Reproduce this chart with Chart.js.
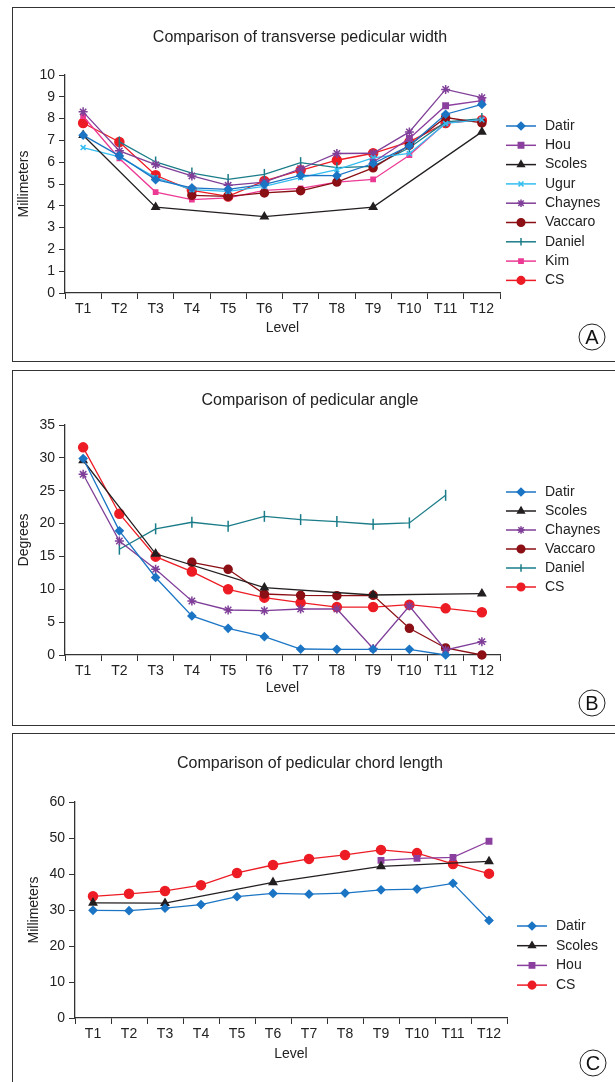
<!DOCTYPE html>
<html>
<head>
<meta charset="utf-8">
<script src="https://cdn.jsdelivr.net/npm/chart.js@4.4.1/dist/chart.umd.min.js"></script>
<style>
    body { margin: 0; background: #fff; overflow: hidden; font-family: "Liberation Sans", Arial, sans-serif; }
    #page { position: relative; width: 615px; height: 1082px; overflow: hidden; }
    .panel { position: absolute; left: 12px; width: 660px; border: 1px solid #333; box-sizing: border-box; }
    canvas { position: absolute; left: 0; }
    .title { position: absolute; font-size: 16px; color: #222; white-space: nowrap; transform: translate(-50%, -50%); }
    .letter { position: absolute; width: 25px; height: 25px; border: 1.3px solid #222; border-radius: 50%;
              font-size: 20px; line-height: 25px; text-align: center; color: #111; transform: translate(-50%, -50%); }
</style>
</head>
<body>
<div id="page">
    <div class="panel" style="top:7px;height:355px"></div>
    <div class="panel" style="top:370px;height:356px"></div>
    <div class="panel" style="top:733px;height:400px"></div>

    <canvas id="widthChart" width="615" height="365" style="top:0"></canvas>
    <canvas id="angleChart" width="615" height="364" style="top:366px"></canvas>
    <canvas id="chordChart" width="615" height="352" style="top:730px"></canvas>

    <div class="title" style="left:300px;top:37px">Comparison of transverse pedicular width</div>
    <div class="title" style="left:310px;top:400px">Comparison of pedicular angle</div>
    <div class="title" style="left:310px;top:763px">Comparison of pedicular chord length</div>

    <div class="letter" style="left:592px;top:337px">A</div>
    <div class="letter" style="left:592px;top:703px">B</div>
    <div class="letter" style="left:593px;top:1063px">C</div>
</div>

<script>
const levels = ['T1', 'T2', 'T3', 'T4', 'T5', 'T6', 'T7', 'T8', 'T9', 'T10', 'T11', 'T12'];

// A - transverse pedicular width (mm)
const widthDatir   = [7.24, 6.29, 5.2, 4.82, 4.75, 4.98, 5.4, 5.38, 5.94, 6.75, 8.2, 8.65];
const widthHou     = [null, null, null, null, null, null, null, null, 6.0, 7.09, 8.59, 8.82];
const widthScoles  = [7.24, null, 3.94, null, null, 3.5, null, null, 3.94, null, null, 7.39];
const widthUgur    = [6.67, 6.24, 5.29, 4.74, 4.66, 4.89, 5.29, 5.66, 6.2, 6.4, 7.78, 7.95];
const widthChaynes = [8.31, 6.52, 5.89, 5.37, 4.94, 5.09, 5.7, 6.4, 6.41, 7.39, 9.34, 8.96];
const widthVaccaro = [null, null, null, 4.48, 4.43, 4.59, 4.69, 5.09, 5.74, 6.78, 8.05, 7.8];
const widthDaniel  = [null, 6.93, 6.01, 5.5, 5.21, 5.44, 5.98, 5.75, 5.81, 6.66, 7.85, 8.0];
const widthKim     = [8.11, 6.17, 4.63, 4.28, 4.36, 4.71, 4.8, 5.09, 5.21, 6.32, 7.8, 7.95];
const widthCS      = [7.8, 6.93, 5.4, 4.71, 4.43, 5.14, 5.63, 6.09, 6.41, 6.93, 7.8, 7.93];

// B - pedicular angle (degrees)
const angleDatir   = [29.9, 18.9, 11.8, 5.94, 4.06, 2.79, 0.91, 0.86, 0.86, 0.86, 0, null];
const angleScoles  = [29.6, null, 15.4, null, null, 10.25, null, null, 9.13, null, null, 9.34];
const angleChaynes = [27.5, 17.35, 13.04, 8.22, 6.85, 6.75, 7.0, 7.0, 1.0, 7.46, 0.76, 2.03];
const angleVaccaro = [null, null, null, 14.1, 13.04, 9.28, 9.08, 9.03, 9.08, 4.06, 1.07, 0];
const angleDaniel  = [null, 16.1, 19.2, 20.2, 19.6, 21.1, 20.6, 20.3, 19.9, 20.1, 24.3, null];
const angleCS      = [31.6, 21.5, 14.97, 12.7, 10.0, 8.73, 7.97, 7.3, 7.3, 7.66, 7.1, 6.5];

// C - pedicular chord length (mm)
const chordDatir  = [29.9, 29.8, 30.5, 31.5, 33.7, 34.6, 34.4, 34.7, 35.6, 35.8, 37.4, 27.1];
const chordScoles = [32.0, null, 31.9, null, null, 37.7, null, null, 42.1, null, null, 43.5];
const chordHou    = [null, null, null, null, null, null, null, null, 43.8, 44.35, 44.6, 49.1];
const chordCS     = [33.8, 34.5, 35.3, 36.9, 40.3, 42.5, 44.2, 45.3, 46.7, 45.8, 42.8, 40.1];

const FONT = '"Liberation Sans", Arial, sans-serif';
const INK = '#222';

// marker look for each author
const styles = {
    Datir:   { color: '#1b75c4', pointStyle: 'rectRot', radius: 3.8 },
    Hou:     { color: '#8b3f9e', pointStyle: 'rect', radius: 3.8 },
    Scoles:  { color: '#231f20', pointStyle: 'triangle', radius: 4.2 },
    Ugur:    { color: '#33bdf0', pointStyle: 'crossRot', radius: 3.5 },
    Chaynes: { color: '#7f3f98', pointStyle: 'star', radius: 4.5 },
    Vaccaro: { color: '#8b0f14', pointStyle: 'circle', radius: 4 },
    Daniel:  { color: '#1a7c88', pointStyle: 'line', radius: 5.5, rotation: 90 },
    Kim:     { color: '#ec3a94', pointStyle: 'rect', radius: 3 },
    CS:      { color: '#ed1c24', pointStyle: 'circle', radius: 4.5 }
};

function series(name, data) {
    const s = styles[name];
    return {
        label: name,
        data: data,
        borderColor: s.color,
        backgroundColor: s.color,
        pointBackgroundColor: s.color,
        pointBorderColor: s.color,
        borderWidth: 1.3,
        pointStyle: s.pointStyle,
        pointRadius: s.radius,
        pointRotation: s.rotation || 0,
        pointBorderWidth: 1.5,
        tension: 0,
        spanGaps: true,
        clip: false
    };
}

// legend drawn at a fixed spot right of the plot: short line with the marker on it
const sideLegend = {
    id: 'sideLegend',
    afterDraw(chart, args, opts) {
        const ctx = chart.ctx;
        ctx.save();
        chart.data.datasets.forEach((ds, i) => {
            const y = opts.top + i * opts.step;
            ctx.strokeStyle = ds.borderColor;
            ctx.lineWidth = 1.5;
            ctx.beginPath();
            ctx.moveTo(opts.left, y);
            ctx.lineTo(opts.left + 30, y);
            ctx.stroke();
            ctx.fillStyle = ds.pointBackgroundColor;
            ctx.lineWidth = ds.pointBorderWidth;
            Chart.helpers.drawPoint(ctx, {
                pointStyle: ds.pointStyle,
                radius: Math.min(ds.pointRadius, 3.8),
                rotation: ds.pointRotation,
                borderWidth: ds.pointBorderWidth
            }, opts.left + 15, y);
            ctx.fillStyle = INK;
            ctx.font = '14px ' + FONT;
            ctx.textBaseline = 'middle';
            ctx.textAlign = 'left';
            ctx.fillText(ds.label, opts.left + 39, y);
        });
        ctx.restore();
    }
};

function makeChart(id, datasets, cfg) {
    const ctx = document.getElementById(id).getContext('2d');
    return new Chart(ctx, {
        type: 'line',
        data: { labels: levels, datasets: datasets },
        options: {
            responsive: false,
            animation: false,
            devicePixelRatio: 1,
            layout: { padding: cfg.padding },
            plugins: {
                legend: { display: false },
                tooltip: { enabled: false },
                sideLegend: cfg.legend
            },
            scales: {
                x: {
                    offset: true,
                    grid: { display: true, offset: true, drawOnChartArea: false, drawTicks: true, tickLength: 6, color: '#333', lineWidth: 1 },
                    border: { display: true, color: '#333', width: 1.3 },
                    ticks: { color: INK, font: { family: FONT, size: 14 }, padding: 2, maxRotation: 0, autoSkip: false },
                    title: { display: true, text: 'Level', color: INK, font: { family: FONT, size: 14 }, padding: { top: 0, bottom: cfg.levelPad } },
                    afterFit: scale => { scale.height = 50; }
                },
                y: {
                    min: cfg.min, max: cfg.max,
                    grid: { display: true, drawOnChartArea: false, drawTicks: true, tickLength: 6, color: '#333', lineWidth: 1 },
                    border: { display: true, color: '#333', width: 1.3 },
                    ticks: { stepSize: cfg.step, color: INK, font: { family: FONT, size: 14 }, padding: 4 },
                    title: { display: true, text: cfg.yTitle, color: INK, font: { family: FONT, size: 14 }, padding: { top: cfg.yTitlePad, bottom: 0 } },
                    afterFit: scale => { scale.width = cfg.axisLeft; }
                }
            }
        },
        plugins: [sideLegend]
    });
}

makeChart('widthChart', [
    series('Datir', widthDatir),
    series('Hou', widthHou),
    series('Scoles', widthScoles),
    series('Ugur', widthUgur),
    series('Chaynes', widthChaynes),
    series('Vaccaro', widthVaccaro),
    series('Daniel', widthDaniel),
    series('Kim', widthKim),
    series('CS', widthCS)
], {
    min: 0, max: 10, step: 1, yTitle: 'Millimeters', yTitlePad: 16, axisLeft: 65,
    padding: { left: 0, right: 115, top: 75, bottom: 22 }, levelPad: 6,
    legend: { left: 506, top: 126, step: 19.3 }
});

makeChart('angleChart', [
    series('Datir', angleDatir),
    series('Scoles', angleScoles),
    series('Chaynes', angleChaynes),
    series('Vaccaro', angleVaccaro),
    series('Daniel', angleDaniel),
    series('CS', angleCS)
], {
    min: 0, max: 35, step: 5, yTitle: 'Degrees', yTitlePad: 16, axisLeft: 65,
    padding: { left: 0, right: 115, top: 59, bottom: 25 }, levelPad: 8,
    legend: { left: 506, top: 126, step: 19 }
});

makeChart('chordChart', [
    series('Datir', chordDatir),
    series('Scoles', chordScoles),
    series('Hou', chordHou),
    series('CS', chordCS)
], {
    min: 0, max: 60, step: 10, yTitle: 'Millimeters', yTitlePad: 26, axisLeft: 75,
    padding: { left: 0, right: 108, top: 72, bottom: 14 }, levelPad: 5,
    legend: { left: 517, top: 196, step: 19.7 }
});
</script>
</body>
</html>
